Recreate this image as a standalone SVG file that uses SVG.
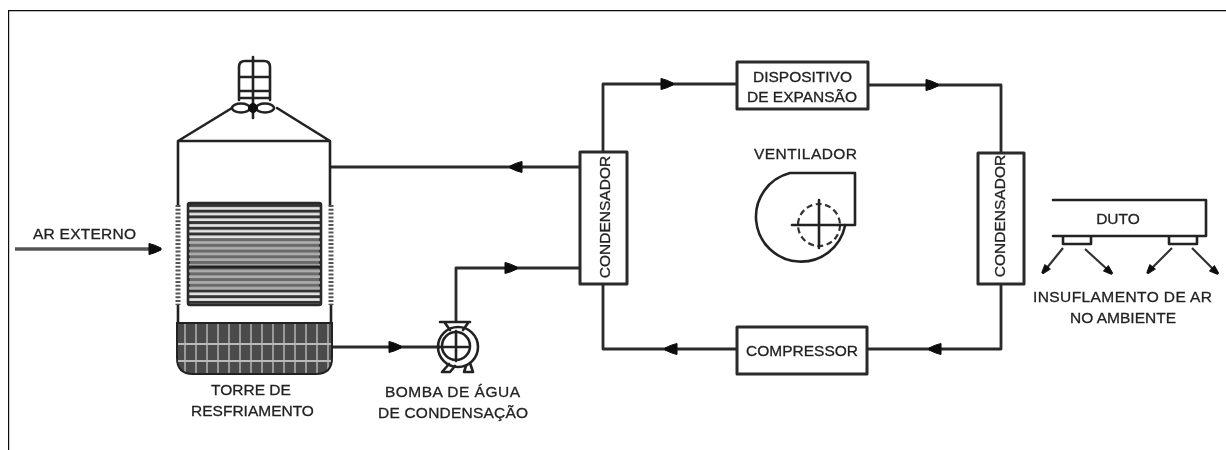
<svg xmlns="http://www.w3.org/2000/svg" width="1226" height="450" viewBox="0 0 1226 450">
<style>
text{font-family:"Liberation Sans",Arial,sans-serif;font-size:15.5px;fill:#222;stroke:#222;stroke-width:.3;text-anchor:middle}
.l{fill:none;stroke:#222;stroke-width:2.6;stroke-linejoin:round;stroke-linecap:round}
.t{fill:none;stroke:#222;stroke-width:2.4}
.d{fill:none;stroke:#333;stroke-width:2.2}
.b{fill:#fff;stroke:#2a2a2a;stroke-width:3;stroke-linejoin:round}
.p{fill:none;stroke:#2a2a2a;stroke-width:2.8;stroke-linejoin:round}
.z{fill:none;stroke:#555;stroke-width:5;stroke-dasharray:2 1.8}
.h{fill:#0a0a0a;stroke:#0a0a0a;stroke-width:1;stroke-linejoin:round}
</style>
<defs>
<filter id="soft" x="0" y="0" width="100%" height="100%"><feGaussianBlur stdDeviation=".45"/></filter>
<path id="a" class="h" d="M-6-5.500Q-1-4.500 6-1V1Q-1 4.500-6 5.500Z"/>
<path id="k" class="h" d="M-4-3.500L4-.8V.8L-4 3.500Z"/>
<pattern id="st" width="10" height="5.7" patternUnits="userSpaceOnUse" y="204">
<rect width="10" height="5.7" fill="#e4e4e4"/><rect width="10" height="3" fill="#333"/>
</pattern>
<pattern id="gr" width="11" height="10" patternUnits="userSpaceOnUse" x="180">
<rect width="11" height="10" fill="#4c4c4c"/><rect x="4" width="2" height="10" fill="#999"/>
</pattern>
</defs>
<rect width="1226" height="450" fill="#fff"/>
<g filter="url(#soft)">
<path d="M8 450V10H1226" fill="none" stroke="#111" stroke-width="2.4"/>

<g id="connectors">
<path class="p" d="M330 167H580"/>
<path class="p" d="M332 347H440"/>
<path class="p" d="M456 322V268H580"/>
<path class="p" d="M603 152V84H737"/>
<path class="p" d="M868 85H1001V153"/>
<path class="p" d="M1001 284V349H867"/>
<path class="p" d="M737 349H603V284"/>
<path d="M15 249H150" fill="none" stroke="#555" stroke-width="3.6"/>
<use href="#a" transform="translate(155 249)"/>
<use href="#a" transform="translate(516 167) rotate(180)"/>
<use href="#a" transform="translate(511 268)"/>
<use href="#a" transform="translate(395 347)"/>
<use href="#a" transform="translate(667 84)"/>
<use href="#a" transform="translate(932 85)"/>
<use href="#a" transform="translate(671 349) rotate(180)"/>
<use href="#a" transform="translate(935 349) rotate(180)"/>
</g>

<g id="torre">
<path class="l" d="M178 205V141H330V205M178 141L232 108M277 108L330 141M178 305V323M331 305V323"/>
<path class="z" d="M178 205V305M331 205V305"/>
<rect x="188" y="203" width="133" height="102" rx="2" fill="url(#st)"/>
<rect x="190" y="238" width="129" height="52" fill="#8a8a8a" opacity=".62"/>
<path d="M188 267H321" stroke="#222" stroke-width="3"/>
<rect x="188" y="203" width="133" height="102" rx="2" fill="none" stroke="#2a2a2a" stroke-width="2.6"/>
<path d="M177 323H332V358Q332 374 316 374H193Q177 374 177 358Z" fill="url(#gr)" stroke="#222" stroke-width="2"/>
<path d="M178 344H331M178 361H331" stroke="#bbb" stroke-width="2"/>
<text x="251" y="395">TORRE DE</text>
<text x="252.500" y="416">RESFRIAMENTO</text>
</g>

<g id="ventilador-torre">
<path class="l" d="M239 100V67Q239 61 245 61H264Q270 61 270 67V100M239 77H270M239 91H270M239 98H270"/>
<path class="l" d="M253 57V118"/>
<ellipse cx="241" cy="108" rx="9" ry="4.500" class="t"/>
<ellipse cx="265" cy="108" rx="9" ry="4.500" class="t"/>
<circle cx="253" cy="108" r="4.500" class="h"/>
</g>

<g id="bomba">
<circle cx="458" cy="347" r="20" class="l"/>
<circle cx="456" cy="346" r="14" class="l"/>
<path class="l" d="M440 322H470M445 323L450 330M468 323L463 330M438 347H468M456 331V361"/>
<path class="l" d="M449 364L442 372H450L455 366M466 366L464 372H473L470 363"/>
<text x="452.500" y="397" textLength="135">BOMBA DE ÁGUA</text>
<text x="453" y="418" textLength="150">DE CONDENSAÇÃO</text>
</g>

<g id="condensador-1">
<rect class="b" x="580" y="152" width="47" height="132"/>
<text transform="translate(610 217) rotate(-90)">CONDENSADOR</text>
</g>
<g id="condensador-2">
<rect class="b" x="978" y="153" width="46" height="131"/>
<text transform="translate(1005 216) rotate(-90)">CONDENSADOR</text>
</g>
<g id="dispositivo">
<rect class="b" x="737" y="62" width="131" height="47"/>
<text x="802.500" y="82">DISPOSITIVO</text>
<text x="802" y="102">DE EXPANSÃO</text>
</g>
<g id="compressor">
<rect class="b" x="737" y="327" width="130" height="47"/>
<text x="802" y="356">COMPRESSOR</text>
</g>
<g id="ventilador">
<text x="805.500" y="159" textLength="103">VENTILADOR</text>
<path class="l" d="M845 226A45 45 0 1 1 790 173H855V225H845"/>
<circle cx="819" cy="225" r="21" class="d" stroke-dasharray="6 3.500"/>
<path class="l" d="M792 225H845M819 200V248"/>
</g>
<g id="duto">
<path class="l" d="M1053 200H1206V236H1053"/>
<path class="l" d="M1063 237V244H1091V237M1169 237V244H1197V237"/>
<text x="1118" y="224">DUTO</text>
<path class="d" d="M1063 248L1046 269M1085 249L1108 270M1172 248L1151 269M1192 248L1214 270"/>
<use href="#k" transform="translate(1045 270) rotate(129)"/>
<use href="#k" transform="translate(1109 271) rotate(42)"/>
<use href="#k" transform="translate(1150 270) rotate(129)"/>
<use href="#k" transform="translate(1215 271) rotate(42)"/>
<text x="1122.500" y="302" textLength="179">INSUFLAMENTO DE AR</text>
<text x="1123" y="323">NO AMBIENTE</text>
</g>
<g id="ar-externo">
<text x="84.500" y="239" textLength="103">AR EXTERNO</text>
</g>
</g>
</svg>
